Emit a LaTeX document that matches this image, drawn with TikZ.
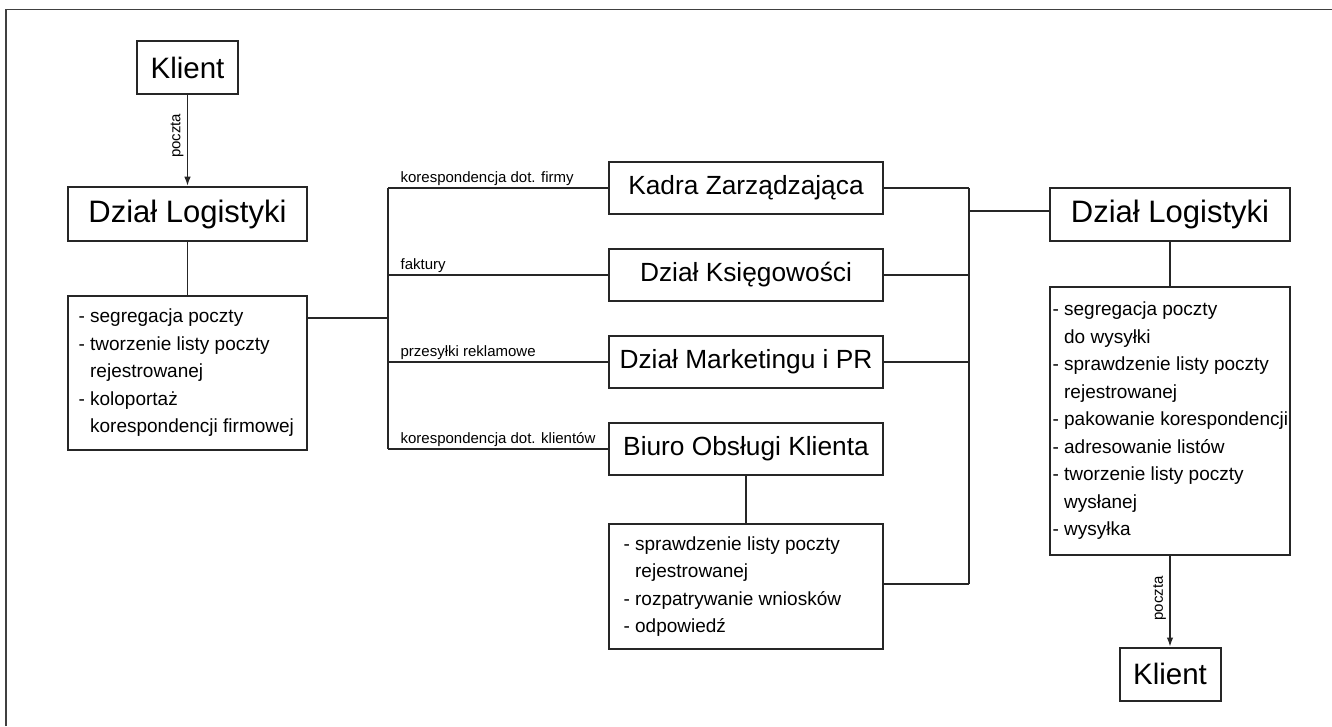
\documentclass[tikz,border=0pt]{standalone}
\usepackage{fontspec}
\setmainfont{Liberation Sans}
\usetikzlibrary{arrows.meta}
\begin{document}
\begin{tikzpicture}[x=1pt,y=-1pt,
  ln/.style={line width=1.2pt, draw=black!85},
  arr/.style={ln, -{Latex[length=9pt,width=6.5pt]}},
  bigbox/.style={draw=black!85, line width=2.6pt, inner sep=0pt, font=\fontsize{31}{36}\selectfont},
  klbox/.style={draw=black!85, line width=2pt, inner sep=0pt, font=\fontsize{29.5}{34}\selectfont, minimum width=101pt, minimum height=53pt},
  midbox/.style={draw=black!85, line width=2pt, inner sep=0pt, minimum width=274pt, minimum height=52pt, font=\fontsize{26.3}{30}\selectfont},
  lstbox/.style={draw=black!85, line width=1.3pt, inner sep=0pt},
  lsttext/.style={font=\fontsize{19}{27.5}\selectfont, align=left, inner sep=0pt, anchor=west},
  lbl/.style={font=\fontsize{15}{18}\selectfont, inner sep=0pt},
]
\useasboundingbox (0,0) rectangle (1332,726);
% partial frame
\draw[line width=1.5pt, black!75] (6,726) -- (6,9.5) -- (1332,9.5);

% left column
\node[klbox] (kl1) at (187.5,67.5) {Klient};
\node[bigbox, minimum width=239pt, minimum height=54pt] (dl1) at (187.5,214) {Dział Logistyki};
\node[lstbox, minimum width=239pt, minimum height=154pt] (ls1) at (187.5,373) {};
\node[lsttext] (ls1t) at ([xshift=11pt]ls1.west) {- segregacja poczty\\- tworzenie listy poczty\\\phantom{- }rejestrowanej\\- koloportaż\\\phantom{- }korespondencji firmowej};

\draw[arr] (kl1.south) -- (dl1.north) node[lbl, rotate=90, pos=0.45, anchor=south, yshift=3.5pt] {poczta};
\draw[ln] (dl1.south) -- (ls1.north);

% middle column
\node[midbox] (kz) at (746,188) {Kadra Zarządzająca};
\node[midbox] (dk) at (746,275) {Dział Księgowości};
\node[midbox] (dm) at (746,362) {Dział Marketingu i PR};
\node[midbox] (bo) at (746,449) {Biuro Obsługi Klienta};
\node[lstbox, minimum width=274pt, minimum height=125pt] (ls2) at (746,586.5) {};
\node[lsttext] (ls2t) at ([xshift=15pt]ls2.west) {- sprawdzenie listy poczty\\\phantom{- }rejestrowanej\\- rozpatrywanie wniosków\\- odpowiedź};
\draw[ln] (bo.south) -- (ls2.north);

% left bus
\coordinate (jL) at (388,318);
\coordinate (bL1) at (388,188);
\coordinate (bL2) at (388,275);
\coordinate (bL3) at (388,362);
\coordinate (bL4) at (388,449);
\draw[ln] (ls1.east |- jL) -- (jL);
\draw[ln] (bL1) -- (bL4);
\draw[ln] (bL1) -- (kz.west) node[lbl, pos=0, anchor=base west, xshift=12pt, yshift=6pt] {korespondencja dot. firmy};
\draw[ln] (bL2) -- (dk.west) node[lbl, pos=0, anchor=base west, xshift=12pt, yshift=6pt] {faktury};
\draw[ln] (bL3) -- (dm.west) node[lbl, pos=0, anchor=base west, xshift=12pt, yshift=6pt] {przesyłki reklamowe};
\draw[ln] (bL4) -- (bo.west) node[lbl, pos=0, anchor=base west, xshift=12pt, yshift=6pt] {korespondencja dot. klientów};

% right column
\node[bigbox, line width=2.4pt, minimum width=240pt, minimum height=53pt] (dl2) at (1170,214.5) {Dział Logistyki};
\node[lstbox, minimum width=240pt, minimum height=268pt] (ls3) at (1170,421) {};
\node[lsttext] (ls3t) at ([xshift=3pt]ls3.west) {- segregacja poczty\\\phantom{- }do wysyłki\\- sprawdzenie listy poczty\\\phantom{- }rejestrowanej\\- pakowanie korespondencji\\- adresowanie listów\\- tworzenie listy poczty\\\phantom{- }wysłanej\\- wysyłka};
\node[klbox] (kl2) at (1170,674) {Klient};
\draw[ln] (dl2.south) -- (ls3.north);
\draw[arr] (ls3.south) -- (kl2.north) node[lbl, rotate=90, pos=0.47, anchor=south, yshift=3.5pt] {poczta};

% right bus
\coordinate (bR1) at (969,188);
\coordinate (bR2) at (969,275);
\coordinate (bR3) at (969,362);
\coordinate (bR4) at (969,584);
\coordinate (jR) at (969,211);
\draw[ln] (kz.east) -- (bR1);
\draw[ln] (dk.east) -- (bR2);
\draw[ln] (dm.east) -- (bR3);
\draw[ln] (ls2.east |- bR4) -- (bR4);
\draw[ln] (bR1) -- (bR4);
\draw[ln] (jR) -- (jR -| dl2.west);
\end{tikzpicture}
\end{document}
